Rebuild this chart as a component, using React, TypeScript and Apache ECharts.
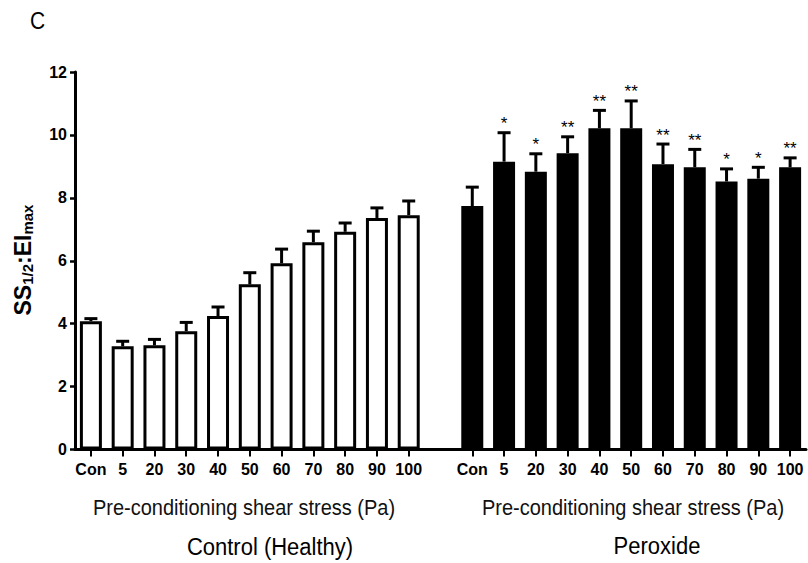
import React, { useEffect, useRef } from "react";
import * as echarts from "echarts";

// Pre-conditioning shear stress levels (Pa)
const doses = ["Con", "5", "20", "30", "40", "50", "60", "70", "80", "90", "100"];

// Control (healthy) group: mean and SEM
const controlMean = [4.08, 3.28, 3.31, 3.76, 4.24, 5.25, 5.92, 6.59, 6.92, 7.36, 7.45];
const controlSem = [0.08, 0.16, 0.19, 0.28, 0.29, 0.37, 0.45, 0.35, 0.28, 0.32, 0.45];

// Peroxide group: mean, SEM and significance markers
const peroxideMean = [7.74, 9.15, 8.83, 9.42, 10.21, 10.21, 9.07, 8.97, 8.52, 8.61, 8.97];
const peroxideSem = [0.6, 0.92, 0.57, 0.52, 0.57, 0.87, 0.64, 0.57, 0.4, 0.36, 0.3];
const peroxideSig = ["", "*", "*", "**", "**", "**", "**", "**", "*", "*", "**"];

const yTicks = [0, 2, 4, 6, 8, 10, 12];

const FONT = "Liberation Sans, Arial, Helvetica, sans-serif";

const tickLabelRich = {
  a: { fontFamily: FONT, fontWeight: "bold", fontSize: 16, color: "#000", lineHeight: 18 },
};

export default function App() {
  const ref = useRef<HTMLDivElement>(null);

  useEffect(() => {
    if (!ref.current) return;
    const chart = echarts.init(ref.current, undefined, { renderer: "svg" });

    // 11 control slots, one empty spacer slot, 11 peroxide slots
    const gapIndex = doses.length;
    const categories = [...doses, "", ...doses];

    const barData: any[] = [];
    const errData: any[] = [];
    const sigText: string[] = [];
    doses.forEach((_, i) => {
      barData.push({
        value: controlMean[i],
        itemStyle: { color: "#ffffff", borderColor: "#000", borderWidth: 3 },
      });
      errData.push([i, controlMean[i], controlSem[i]]);
      sigText.push("");
    });
    barData.push("-");
    doses.forEach((_, i) => {
      barData.push({
        value: peroxideMean[i],
        itemStyle: { color: "#000000", borderColor: "#000", borderWidth: 3 },
      });
      errData.push([gapIndex + 1 + i, peroxideMean[i], peroxideSem[i]]);
      sigText.push(peroxideSig[i]);
    });

    const option: any = {
      animation: false,
      backgroundColor: "#ffffff",
      textStyle: { fontFamily: FONT },
      grid: { left: 75, right: 2, top: 72, bottom: 113.5, containLabel: false },
      xAxis: {
        type: "category",
        data: categories,
        boundaryGap: true,
        axisLine: { show: true, lineStyle: { color: "#000", width: 3 } },
        axisTick: {
          show: true,
          alignWithLabel: true,
          length: 7,
          interval: (idx: number) => idx !== gapIndex,
          lineStyle: { color: "#000", width: 2 },
        },
        axisLabel: {
          interval: 0,
          margin: 11,
          formatter: (v: string) => (v ? `{a|${v}}` : ""),
          rich: tickLabelRich,
        },
        splitLine: { show: false },
      },
      yAxis: {
        type: "value",
        min: yTicks[0],
        max: yTicks[yTicks.length - 1],
        interval: 2,
        axisLine: { show: true, lineStyle: { color: "#000", width: 3 } },
        axisTick: { show: true, length: 5, lineStyle: { color: "#000", width: 2.5 } },
        axisLabel: {
          margin: 8,
          formatter: (v: number) => `{a|${v}}`,
          rich: tickLabelRich,
        },
        splitLine: { show: false },
      },
      series: [
        {
          type: "bar",
          data: barData,
          barWidth: 22,
          z: 2,
        },
        {
          type: "custom",
          z: 3,
          data: errData,
          renderItem: (params: any, api: any) => {
            const x = api.value(0);
            const mean = api.value(1);
            const sem = api.value(2);
            const base = api.coord([x, mean]);
            const top = api.coord([x, mean + sem]);
            const children: any[] = [
              {
                type: "line",
                shape: { x1: base[0], y1: base[1], x2: top[0], y2: top[1] },
                style: { stroke: "#000", lineWidth: 3 },
              },
              {
                type: "line",
                shape: { x1: top[0] - 6.5, y1: top[1], x2: top[0] + 6.5, y2: top[1] },
                style: { stroke: "#000", lineWidth: 3 },
              },
            ];
            const s = sigText[params.dataIndex];
            if (s) {
              children.push({
                type: "text",
                x: top[0],
                y: top[1] - 9,
                style: {
                  text: s,
                  fill: "#000",
                  fontFamily: FONT,
                  fontSize: 17,
                  align: "center",
                  verticalAlign: "middle",
                },
              });
            }
            return { type: "group", children };
          },
        },
      ],
      graphic: [
        {
          type: "text",
          x: 30,
          y: 21,
          scaleY: 1.1,
          style: {
            text: "C",
            fill: "#000",
            fontFamily: FONT,
            fontSize: 21,
            verticalAlign: "middle",
          },
        },
        {
          type: "text",
          x: 23,
          y: 260,
          rotation: Math.PI / 2,
          style: {
            text: "{m|SS}{s|1/2}{m|:EI}{s|max}",
            align: "center",
            verticalAlign: "middle",
            fill: "#000",
            rich: {
              m: { fontFamily: FONT, fontWeight: "bold", fontSize: 23, fill: "#000" },
              s: {
                fontFamily: FONT,
                fontWeight: "bold",
                fontSize: 15,
                fill: "#000",
                verticalAlign: "bottom",
              },
            },
          },
        },
        {
          type: "text",
          x: 244,
          y: 507,
          scaleY: 1.12,
          style: {
            text: "Pre-conditioning shear stress (Pa)",
            fill: "#111",
            fontFamily: FONT,
            fontSize: 20,
            align: "center",
            verticalAlign: "middle",
          },
        },
        {
          type: "text",
          x: 633,
          y: 507,
          scaleY: 1.12,
          style: {
            text: "Pre-conditioning shear stress (Pa)",
            fill: "#111",
            fontFamily: FONT,
            fontSize: 20,
            align: "center",
            verticalAlign: "middle",
          },
        },
        {
          type: "text",
          x: 270,
          y: 547,
          scaleY: 1.12,
          style: {
            text: "Control (Healthy)",
            fill: "#000",
            fontFamily: FONT,
            fontSize: 22,
            align: "center",
            verticalAlign: "middle",
          },
        },
        {
          type: "text",
          x: 657,
          y: 546,
          scaleY: 1.12,
          style: {
            text: "Peroxide",
            fill: "#000",
            fontFamily: FONT,
            fontSize: 22,
            align: "center",
            verticalAlign: "middle",
          },
        },
      ],
    };

    chart.setOption(option);
    return () => chart.dispose();
  }, []);

  return (
    <div
      ref={ref}
      style={{ position: "fixed", left: 0, top: 0, width: 808, height: 563, background: "#fff" }}
    />
  );
}
